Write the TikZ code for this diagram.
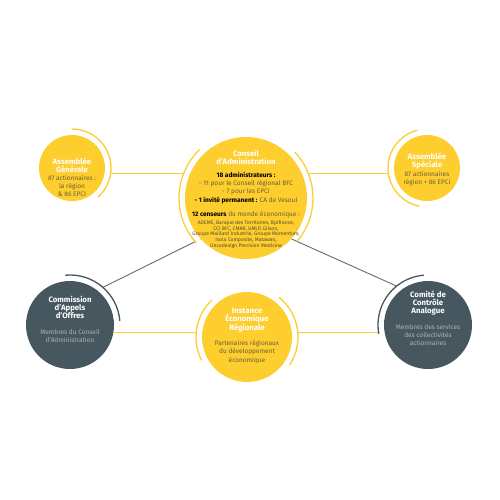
\documentclass[tikz,border=0pt]{standalone}
\usepackage{fontspec}
\setmainfont{Fira Sans}
\usetikzlibrary{backgrounds,calc}
\definecolor{cdyellow}{HTML}{FDCE2E}
\definecolor{cdslate}{HTML}{46575F}
\definecolor{cdline}{HTML}{5E6D75}
\definecolor{cdbrown}{HTML}{6B5F3A}
\definecolor{cdmist}{HTML}{AAB5BA}
\begin{document}
\begin{tikzpicture}[x=1pt,y=1pt,line cap=round,
  disc/.style={circle,inner sep=0pt},
  yellowdisc/.style={disc,fill=cdyellow},
  slatedisc/.style={disc,fill=cdslate},
  title/.style={align=center,text=white,font=\fontsize{7.8}{8}\selectfont\bfseries},
  body/.style={align=center,text=cdbrown,font=\fontsize{6.5}{8.1}\selectfont},
  mistbody/.style={body,text=cdmist},
  small/.style={align=center,text=cdbrown!80!black,font=\fontsize{5.1}{5.9}\selectfont},
  gap/.style={white,line width=5pt,line cap=butt},
  yline/.style={cdyellow,line width=0.9pt},
  gline/.style={cdline,line width=0.9pt}]
  \useasboundingbox (0,0) rectangle (500,500);
  % circles
  \node[yellowdisc,minimum size=122pt] (ca) at (246,302) {};
  \node[yellowdisc,minimum size=66pt] (ag) at (72,332) {};
  \node[yellowdisc,minimum size=66pt] (as) at (427,332) {};
  \node[slatedisc,minimum size=88pt] (cao) at (70,175) {};
  \node[slatedisc,minimum size=88pt] (cca) at (428,175) {};
  \node[yellowdisc,minimum size=90pt] (ier) at (247,163) {};
  % connectors
  \begin{scope}[on background layer]
    \draw[yline] ([yshift=-5pt]ag.east) -- ([yshift=-5pt]as.west);
    \draw[yline] ([yshift=-7pt]cao.east) -- ([yshift=-7pt]cca.west);
    \draw[gline] (ca.222) -- (cao.52);
    \draw[gline] (ca.-42) -- (cca.125);
  \end{scope}
  % rings
  \draw[gap] (ca) ++(134:64) arc[start angle=134,end angle=222,radius=64];
  \draw[gap] (ca) ++(-40:64) arc[start angle=-40,end angle=43,radius=64];
  \draw[cdyellow,line width=1.3pt] (ca) ++(134:67) arc[start angle=134,end angle=222,radius=67];
  \draw[cdyellow,line width=1.3pt] (ca) ++(-40:67) arc[start angle=-40,end angle=43,radius=67];
  \draw[gap] (ag) ++(-48:36) arc[start angle=-48,end angle=90,radius=36];
  \draw[cdyellow,line width=1.3pt] (ag) ++(-48:39) arc[start angle=-48,end angle=90,radius=39];
  \draw[gap] (as) ++(105:36) arc[start angle=105,end angle=258,radius=36];
  \draw[cdyellow,line width=1.3pt] (as) ++(105:39) arc[start angle=105,end angle=258,radius=39];
  \draw[gap] (cao) ++(5:47) arc[start angle=5,end angle=95,radius=47];
  \draw[cdslate,line width=1.3pt] (cao) ++(5:50) arc[start angle=5,end angle=95,radius=50];
  \draw[gap] (cca) ++(95:47) arc[start angle=95,end angle=190,radius=47];
  \draw[cdslate,line width=1.3pt] (cca) ++(95:50) arc[start angle=95,end angle=190,radius=50];
  \draw[gap] (ier) ++(134:48) arc[start angle=134,end angle=207,radius=48];
  \draw[gap] (ier) ++(-33:48) arc[start angle=-33,end angle=51,radius=48];
  \draw[cdyellow,line width=1.3pt] (ier) ++(134:51) arc[start angle=134,end angle=207,radius=51];
  \draw[cdyellow,line width=1.3pt] (ier) ++(-33:51) arc[start angle=-33,end angle=51,radius=51];
  % texts
  \node[title] (ca-title) at ($(ca)+(0,41)$) {Conseil\\d'Administration};
  \node[body] (ca-body) at ($(ca)+(0,10)$) {\textbf{\color{black}18 administrateurs :}\\
    - 11 pour le Conseil régional BFC\\- 7 pour les EPCI\\
    \textbf{\color{black}- 1 invité permanent :} CA de Vesoul};
  \node[body] (ca-cens) at ($(ca)+(0,-17)$) {\textbf{\color{black}12 censeurs} du monde économique :};
  \node[small] (ca-list) at ($(ca)+(0,-36.5)$) {ADEME, Banque des Territoires, Bpifrance,\\
    CCI BFC, CMAR, UMLP, Gilson,\\Groupe Maillard Industrie, Groupe Momentum,\\
    Isola Composite, Matawan,\\Oncodesign Precision Medicine};
  \node[title] (ag-title) at ($(ag)+(0,3)$) {Assemblée\\Générale};
  \node[body] (ag-body) at ($(ag)+(0,-18)$) {87 actionnaires :\\la région\\\& 86 EPCI};
  \node[title] (as-title) at ($(as)+(0,7)$) {Assemblée\\Spéciale};
  \node[body] (as-body) at ($(as)+(0,-11)$) {87 actionnaires\\région + 86 EPCI};
  \node[title] (cao-title) at ($(cao)+(0,18)$) {Commission\\d'Appels\\d'Offres};
  \node[mistbody] (cao-body) at ($(cao)+(0,-11)$) {Membres du Conseil\\d'Administration};
  \node[title] (cca-title) at ($(cca)+(0,22)$) {Comité de\\Contrôle\\Analogue};
  \node[mistbody] (cca-body) at ($(cca)+(0,-10)$) {Membres des services\\des collectivités\\actionnaires};
  \node[title] (ier-title) at ($(ier)+(0,17)$) {Instance\\Économique\\Régionale};
  \node[body] (ier-body) at ($(ier)+(0,-15)$) {Partenaires régionaux\\du développement\\économique};
\end{tikzpicture}
\end{document}
